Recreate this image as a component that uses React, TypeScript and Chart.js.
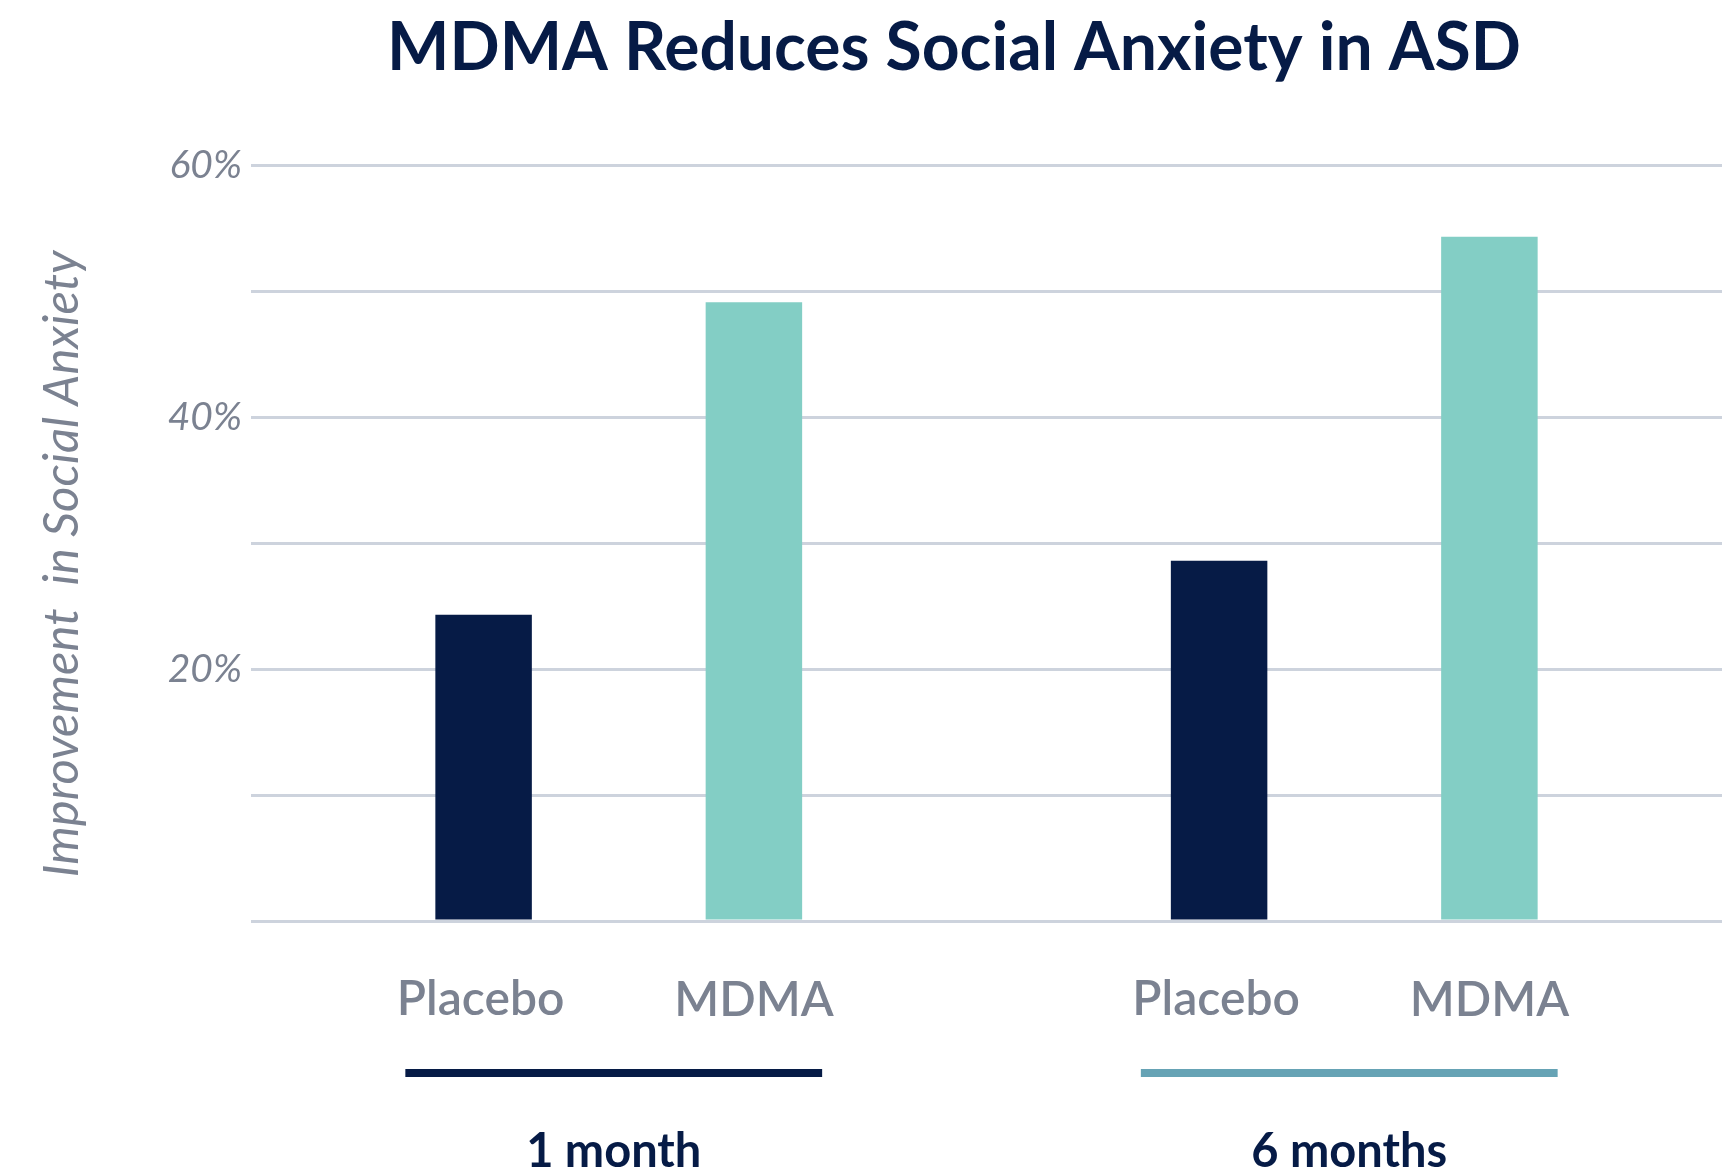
import React, { useEffect, useRef } from "react";
import { Chart, registerables } from "chart.js";

Chart.register(...registerables);

// ---- data ----
const chartTitle = "MDMA Reduces Social Anxiety in ASD";
const yAxisTitle = "Improvement  in Social Anxiety";
const timepoints = ["1 month", "6 months"];
const seriesNames = ["Placebo", "MDMA"];
const placeboValues = [24.3, 28.6];
const mdmaValues = [49.1, 54.3];
const yLabelledTicks = [20, 40, 60];

// ---- styles ----
const NAVY = "#061b46";
const TEAL = "#83cec5";
const GRAY = "#7b8291";
const GRID = "#cdd3dd";
const GROUP_LINE_COLORS = [NAVY, "#66a3b5"];
const FONT = "Lato, 'Open Sans', sans-serif";

const annotatePlugin = {
  id: "annotate",
  afterDraw(chart: any) {
    const ctx = chart.ctx;
    const area = chart.chartArea;
    ctx.save();
    ctx.textAlign = "center";
    ctx.textBaseline = "alphabetic";

    // title
    ctx.font = `bold 66px ${FONT}`;
    ctx.fillStyle = NAVY;
    ctx.fillText(chartTitle, 954, 70);

    // y axis title
    ctx.save();
    ctx.translate(62, (area.top + area.bottom) / 2 + 21);
    ctx.rotate(-Math.PI / 2);
    ctx.textBaseline = "middle";
    ctx.font = `italic 400 49px ${FONT}`;
    ctx.fillStyle = GRAY;
    ctx.fillText(yAxisTitle, 0, 0);
    ctx.restore();

    const m0 = chart.getDatasetMeta(0);
    const m1 = chart.getDatasetMeta(1);
    timepoints.forEach((tp: string, i: number) => {
      const b0 = m0.data[i];
      const b1 = m1.data[i];
      ctx.font = `600 48px ${FONT}`;
      ctx.fillStyle = GRAY;
      ctx.fillText(seriesNames[0], b0.x - 3, area.bottom + 94);
      ctx.fillText(seriesNames[1], b1.x, area.bottom + 95);

      const left = b0.x - b0.width / 2 - 30;
      const right = b1.x + b1.width / 2 + 20;
      ctx.fillStyle = GROUP_LINE_COLORS[i];
      ctx.fillRect(left, area.bottom + 148, right - left, 8);

      ctx.font = `bold 47px ${FONT}`;
      ctx.fillStyle = NAVY;
      ctx.fillText(tp, (left + right) / 2, area.bottom + 246);
    });
    ctx.restore();
  },
};

export default function App() {
  const ref = useRef<HTMLCanvasElement | null>(null);

  useEffect(() => {
    if (!ref.current) return;
    const chart = new Chart(ref.current, {
      type: "bar",
      data: {
        labels: timepoints,
        datasets: [
          {
            label: seriesNames[0],
            data: placeboValues,
            backgroundColor: NAVY,
            categoryPercentage: 0.735,
            barPercentage: 0.357,
          },
          {
            label: seriesNames[1],
            data: mdmaValues,
            backgroundColor: TEAL,
            categoryPercentage: 0.735,
            barPercentage: 0.357,
          },
        ],
      },
      options: {
        animation: false,
        responsive: true,
        maintainAspectRatio: false,
        devicePixelRatio: 1,
        layout: { padding: { top: 165, bottom: 252, left: 0, right: 0 } },
        plugins: {
          legend: { display: false },
          tooltip: { enabled: false },
          title: { display: false },
        },
        scales: {
          x: {
            display: false,
            grid: { display: false },
          },
          y: {
            min: 0,
            max: 60,
            afterFit: (scale: any) => {
              scale.width = 251;
            },
            border: { display: false },
            grid: { color: GRID, lineWidth: 3, drawTicks: false },
            ticks: {
              stepSize: 10,
              padding: 9,
              color: GRAY,
              font: { family: FONT, size: 39, style: "italic", weight: "400" },
              callback: (v: any) => (yLabelledTicks.includes(Number(v)) ? `${v}%` : ""),
            },
          },
        },
      },
      plugins: [annotatePlugin],
    });
    return () => chart.destroy();
  }, []);

  return (
    <div style={{ position: "absolute", left: 0, top: 0, width: 1722, height: 1173, background: "#fff" }}>
      <canvas ref={ref} />
    </div>
  );
}
